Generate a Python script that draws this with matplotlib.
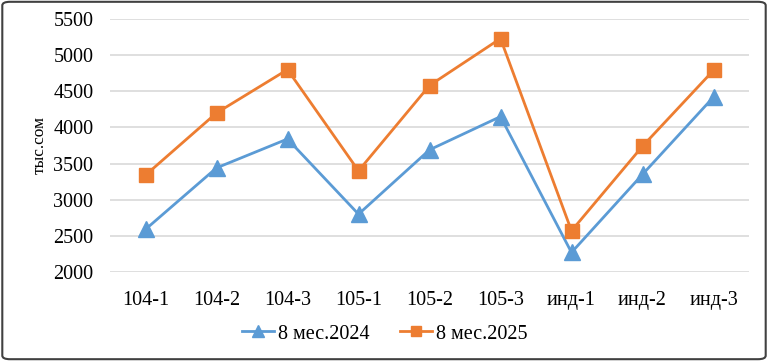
import matplotlib
matplotlib.use("Agg")
import matplotlib.pyplot as plt
from matplotlib.patches import FancyBboxPatch

categories = ["104-1", "104-2", "104-3", "105-1", "105-2", "105-3", "инд-1", "инд-2", "инд-3"]
s2024 = [2590, 3440, 3840, 2800, 3690, 4150, 2270, 3350, 4420]
s2025 = [3340, 4200, 4800, 3400, 4580, 5230, 2570, 3740, 4790]
yticks = [2000, 2500, 3000, 3500, 4000, 4500, 5000, 5500]

plt.rcParams['font.family'] = ['Liberation Serif', 'DejaVu Serif']

fig = plt.figure(figsize=(7.68, 3.61), dpi=100)
ax = fig.add_axes([110/768, 1 - 272/361, 639/768, 253/361])

x = list(range(len(categories)))
ax.plot(x, s2024, color='#5B9BD5', lw=2, marker='^', ms=11, markeredgecolor='#5B9BD5', label='8 мес.2024')
ax.plot(x, s2025, color='#ED7D31', lw=2, marker='s', ms=10, markeredgecolor='#ED7D31', label='8 мес.2025')

ax.set_xlim(-0.5, len(categories) - 0.5)
ax.set_ylim(2000, 5500)
ax.set_yticks(yticks)
ax.set_xticks(x)
ax.set_xticklabels(categories)
ax.tick_params(axis='both', length=0, labelsize=14.5, colors='#000000')
ax.tick_params(axis='x', pad=14)
ax.tick_params(axis='y', pad=12)
ax.grid(axis='y', color='#D9D9D9', lw=1.2)
ax.set_axisbelow(True)
for s in ax.spines.values():
    s.set_visible(False)
ax.set_ylabel('тыс.сом', fontsize=12.5, labelpad=4)

ax.legend(loc='center', bbox_to_anchor=(0.43, -0.245), ncol=2, frameon=False, fontsize=14.5,
          handlelength=1.6, columnspacing=1.5, handletextpad=0.2, markerscale=0.75)

border = FancyBboxPatch((0.003, 0.005), 0.994, 0.99, boxstyle="round,pad=0,rounding_size=0.01",
                        transform=fig.transFigure, fill=False, edgecolor='#404040', lw=1.5)
fig.patches.append(border)

fig.savefig('out.png', dpi=100)
